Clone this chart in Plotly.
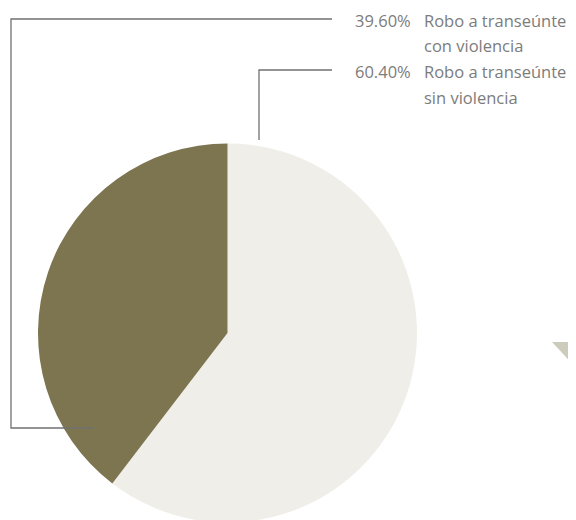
import plotly.graph_objects as go

labels = ["Robo a transeúnte sin violencia", "Robo a transeúnte con violencia"]
label_lines = [["Robo a transeúnte", "sin violencia"], ["Robo a transeúnte", "con violencia"]]
values = [60.40, 39.60]
colors = ["#efeee9", "#7d7450"]

W, H = 576, 520
OFF = 8  # page body margin
cx, cy, R = 227.5 - OFF, 333 - OFF, 189.5

def px(x):
    return x / W

def py(y):
    return 1 - y / H

fig = go.Figure(go.Pie(
    labels=labels, values=values, sort=False, direction="clockwise", rotation=0,
    marker=dict(colors=colors, line=dict(width=0)),
    textinfo="none", hoverinfo="label+percent", showlegend=False,
    domain=dict(x=[px(cx - R), px(cx + R)], y=[py(cy + R), py(cy - R)]),
))

line_col = "#707070"
txt_col = "#7c7c7c"
font = dict(family="Open Sans, Lato, sans-serif", size=16.5, color=txt_col)

# leader paths (reference pixel coordinates, shifted by page margin)
paths = {
    1: [(93, 428), (11, 428), (11, 19), (332, 19)],
    0: [(259, 140), (259, 70), (332, 70)],
}
label_y = {1: 20, 0: 71}
for i, pts in paths.items():
    d = "M " + " L ".join(f"{px(x - OFF)},{py(y - OFF)}" for x, y in pts)
    fig.add_shape(type="path", path=d, xref="paper", yref="paper",
                  line=dict(color=line_col, width=1.3))
    y0 = label_y[i] - OFF
    fig.add_annotation(x=px(413 - OFF), y=py(y0), xref="paper", yref="paper",
                       text=f"{values[i]:.2f}%", showarrow=False,
                       xanchor="right", yanchor="middle", font=font)
    for k, ln in enumerate(label_lines[i]):
        fig.add_annotation(x=px(422 - OFF), y=py(y0 + 26 * k), xref="paper", yref="paper",
                           text=ln, showarrow=False, xanchor="left", yanchor="middle",
                           font=font)

# partial decorative shape at right edge
tri = [(552, 342), (576, 342), (576, 368)]
fig.add_shape(type="path", xref="paper", yref="paper",
              path="M " + " L ".join(f"{px(x - OFF)},{py(y - OFF)}" for x, y in tri) + " Z",
              fillcolor="#cdcbbb", line=dict(width=0))

fig.update_layout(width=W, height=H, margin=dict(l=0, r=0, t=0, b=0),
                  paper_bgcolor="white", plot_bgcolor="white")
fig.write_html("out.html")
